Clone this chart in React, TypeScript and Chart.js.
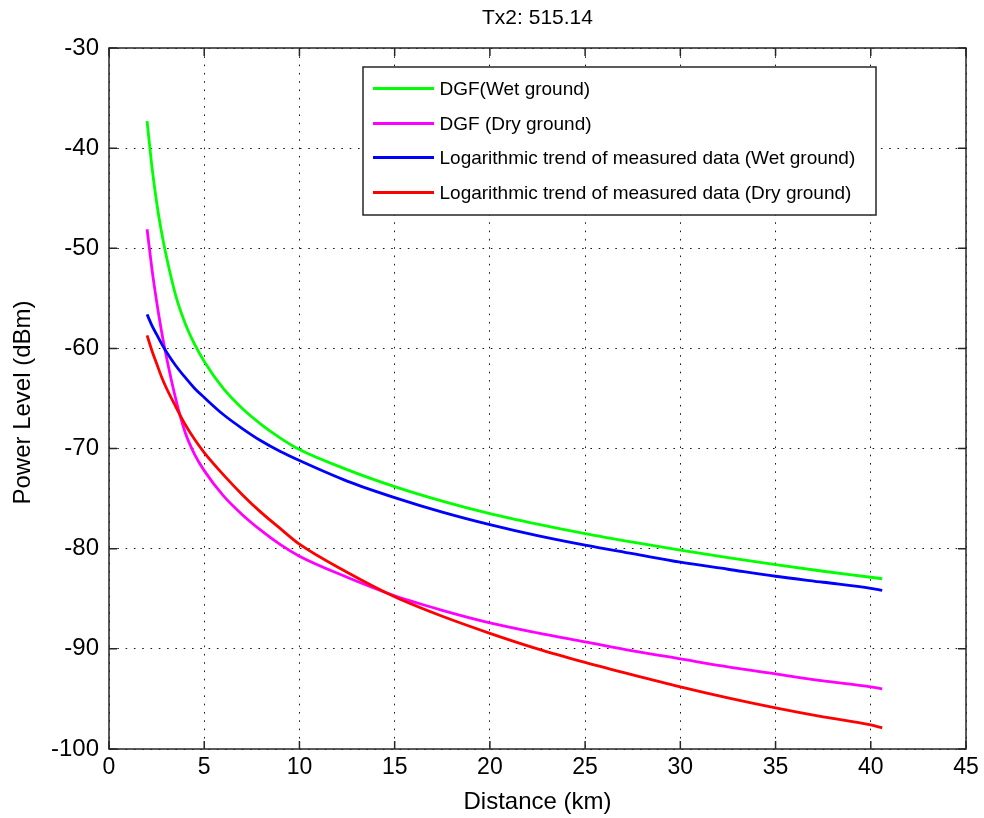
import { useEffect, useRef } from "react";
import { Chart, registerables } from "chart.js";

Chart.register(...registerables);

const chartTitle = "Tx2: 515.14";
const xAxisTitle = "Distance (km)";
const yAxisTitle = "Power Level (dBm)";

const distanceKm = [2, 2.25, 2.5, 2.75, 3, 3.5, 4, 4.5, 5, 6, 7, 8, 9, 10, 12.5, 15, 17.5, 20, 22.5, 25, 27.5, 30, 32.5, 35, 37.5, 40, 40.6];

const dgfWet = [-37.3, -41.8, -45.4, -48.3, -50.7, -54.7, -57.5, -59.6, -61.3, -64.0, -66.0, -67.6, -68.95, -70.1, -72.1, -73.8, -75.25, -76.5, -77.55, -78.5, -79.35, -80.15, -80.9, -81.6, -82.25, -82.85, -83.0];
const dgfDry = [-48.1, -52.0, -55.3, -58.2, -60.7, -65.0, -68.4, -70.6, -72.2, -74.7, -76.6, -78.2, -79.6, -80.75, -82.85, -84.7, -86.15, -87.4, -88.4, -89.3, -90.2, -91.0, -91.8, -92.5, -93.2, -93.8, -94.0];
const logTrendWet = [-56.6, -57.7, -58.6, -59.5, -60.3, -61.7, -62.9, -64.0, -64.9, -66.6, -68.0, -69.25, -70.3, -71.2, -73.25, -74.9, -76.35, -77.6, -78.7, -79.65, -80.5, -81.35, -82.05, -82.75, -83.35, -83.95, -84.15];
const logTrendDry = [-58.7, -60.2, -61.5, -62.8, -63.9, -65.8, -67.6, -69.1, -70.4, -72.6, -74.6, -76.4, -78.0, -79.55, -82.35, -84.8, -86.75, -88.45, -90.0, -91.35, -92.6, -93.8, -94.9, -95.9, -96.8, -97.6, -97.9];

const seriesLabels = [
  "DGF(Wet ground)",
  "DGF (Dry ground)",
  "Logarithmic trend of measured data (Wet ground)",
  "Logarithmic trend of measured data (Dry ground)",
];
const seriesColors = ["#00ff00", "#ff00ff", "#0000ff", "#ff0000"];
const seriesValues = [dgfWet, dgfDry, logTrendWet, logTrendDry];

const xMin = 0, xMax = 45, xStep = 5;
const yMin = -100, yMax = -30, yStep = 10;

const FONT = "'Liberation Sans', Arial, Helvetica, sans-serif";

const matlabPlugin = {
  id: "matlabDecor",
  afterDatasetsDraw(chart: any) {
    const { ctx, chartArea: a } = chart;
    const xs = chart.scales.x;
    const ys = chart.scales.y;
    ctx.save();
    // box
    ctx.strokeStyle = "#262626";
    ctx.lineWidth = 1.5;
    ctx.strokeRect(a.left, a.top, a.right - a.left, a.bottom - a.top);
    // inward ticks
    const tl = 8;
    ctx.lineWidth = 1.5;
    ctx.beginPath();
    xs.ticks.forEach((t: any) => {
      const px = xs.getPixelForValue(t.value);
      ctx.moveTo(px, a.bottom);
      ctx.lineTo(px, a.bottom - tl);
      ctx.moveTo(px, a.top);
      ctx.lineTo(px, a.top + tl);
    });
    ys.ticks.forEach((t: any) => {
      const py = ys.getPixelForValue(t.value);
      ctx.moveTo(a.left, py);
      ctx.lineTo(a.left + tl, py);
      ctx.moveTo(a.right, py);
      ctx.lineTo(a.right - tl, py);
    });
    ctx.stroke();

    // legend
    const lx = 363, ly = 67, lw = 513, lh = 148;
    ctx.fillStyle = "#ffffff";
    ctx.fillRect(lx, ly, lw, lh);
    ctx.strokeStyle = "#262626";
    ctx.lineWidth = 1.5;
    ctx.strokeRect(lx, ly, lw, lh);
    const rowYs = [88.5, 123.5, 157.5, 192.5];
    ctx.font = `19px ${FONT}`;
    ctx.textBaseline = "middle";
    ctx.textAlign = "left";
    chart.data.datasets.forEach((ds: any, i: number) => {
      const ry = rowYs[i];
      ctx.strokeStyle = ds.borderColor;
      ctx.lineWidth = 3;
      ctx.beginPath();
      ctx.moveTo(373, ry);
      ctx.lineTo(434, ry);
      ctx.stroke();
      ctx.fillStyle = "#000000";
      ctx.fillText(ds.label, 439.5, ry + 1);
    });

    // titles
    ctx.fillStyle = "#000000";
    ctx.textAlign = "center";
    ctx.textBaseline = "middle";
    ctx.font = `21px ${FONT}`;
    ctx.fillText(chartTitle, (a.left + a.right) / 2, 18);
    ctx.font = `24px ${FONT}`;
    ctx.fillText(xAxisTitle, (a.left + a.right) / 2, 802);
    ctx.save();
    ctx.translate(23, (a.top + a.bottom) / 2 + 4);
    ctx.rotate(-Math.PI / 2);
    ctx.fillText(yAxisTitle, 0, 0);
    ctx.restore();
    ctx.restore();
  },
};

export default function App() {
  const canvasRef = useRef<HTMLCanvasElement | null>(null);

  useEffect(() => {
    document.body.style.margin = "0";
    const canvas = canvasRef.current;
    if (!canvas) return;
    const chart = new Chart(canvas, {
      type: "line",
      data: {
        datasets: seriesValues.map((vals, i) => ({
          label: seriesLabels[i],
          data: distanceKm.map((d, j) => ({ x: d, y: vals[j] })),
          borderColor: seriesColors[i],
          backgroundColor: seriesColors[i],
          borderWidth: 2.8,
          pointRadius: 0,
          fill: false,
          cubicInterpolationMode: "monotone" as const,
          order: 3 - i,
        })),
      },
      options: {
        responsive: false,
        animation: false,
        events: [],
        layout: { padding: { left: 0, right: 18, top: 48, bottom: 0 } },
        plugins: {
          legend: { display: false },
          title: { display: false },
          tooltip: { enabled: false },
        },
        scales: {
          x: {
            type: "linear",
            min: xMin,
            max: xMax,
            ticks: {
              stepSize: xStep,
              padding: 5,
              color: "#000",
              font: { family: FONT, size: 23 },
              maxRotation: 0,
            },
            grid: { color: "rgba(0,0,0,0.9)", lineWidth: 1, drawTicks: false },
            border: { display: false, dash: [1.6, 6.7] },
            afterFit(scale: any) {
              scale.height = 69;
            },
          },
          y: {
            type: "linear",
            min: yMin,
            max: yMax,
            ticks: {
              stepSize: yStep,
              padding: 10,
              color: "#000",
              font: { family: FONT, size: 24 },
            },
            grid: { color: "rgba(0,0,0,0.9)", lineWidth: 1, drawTicks: false },
            border: { display: false, dash: [1.6, 6.7] },
            afterFit(scale: any) {
              scale.width = 109;
            },
          },
        },
      },
      plugins: [matlabPlugin],
    });
    return () => chart.destroy();
  }, []);

  return (
    <div style={{ width: 984, height: 818, background: "#fff" }}>
      <canvas ref={canvasRef} width={984} height={818} style={{ display: "block" }} />
    </div>
  );
}
